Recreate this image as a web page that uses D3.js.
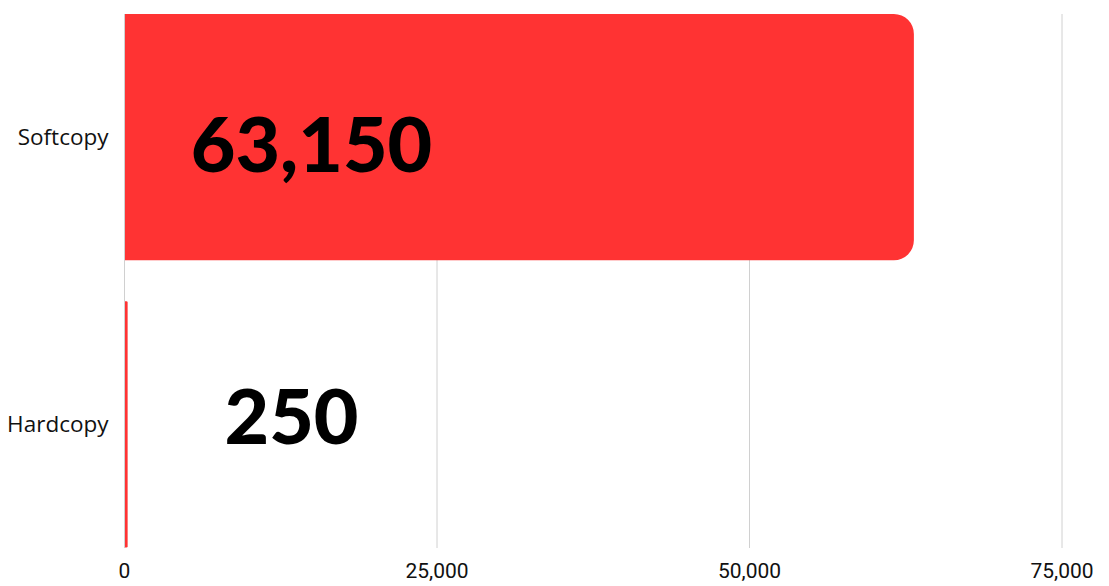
<!DOCTYPE html>
<html>
<head>
<meta charset="utf-8">
<script src="https://cdn.jsdelivr.net/npm/d3@7"></script>
<style>
  body { margin: 0; background: #fff; }
  svg { display: block; }
</style>
</head>
<body>
<div id="chart"></div>
<script>
const categories = ["Softcopy", "Hardcopy"];
const values = [63150, 250];
const tickValues = [0, 25000, 50000, 75000];

const width = 1109;
const height = 586;
const margin = { top: 14, right: 47, bottom: 38, left: 124.5 };

const svg = d3.select("#chart")
  .append("svg")
  .attr("width", width)
  .attr("height", height);

const x = d3.scaleLinear()
  .domain([0, 75000])
  .range([margin.left, width - margin.right]);

const y = d3.scaleBand()
  .domain(categories)
  .range([margin.top, height - margin.bottom - 0.5])
  .paddingInner(0.142)
  .paddingOuter(0);

// gridlines
svg.append("g")
  .selectAll("line")
  .data(tickValues)
  .join("line")
  .attr("x1", d => x(d))
  .attr("x2", d => x(d))
  .attr("y1", margin.top)
  .attr("y2", height - margin.bottom)
  .attr("stroke", "#d0d0d0")
  .attr("stroke-width", 1);

// x tick labels
svg.append("g")
  .selectAll("text")
  .data(tickValues)
  .join("text")
  .attr("x", d => x(d))
  .attr("y", 578)
  .attr("text-anchor", "middle")
  .attr("font-family", "Roboto, sans-serif")
  .attr("font-size", 21)
  .attr("fill", "#111")
  .text(d => d3.format(",")(d));

// bars, rounded on the right end
function barPath(x0, x1, y0, h, r) {
  const w = x1 - x0;
  r = Math.min(r, w / 2, h / 2);
  return `M${x0},${y0}H${x1 - r}A${r},${r} 0 0 1 ${x1},${y0 + r}` +
    `V${y0 + h - r}A${r},${r} 0 0 1 ${x1 - r},${y0 + h}H${x0}Z`;
}

const rows = categories.map((c, i) => ({ name: c, value: values[i] }));

svg.append("g")
  .selectAll("path")
  .data(rows)
  .join("path")
  .attr("d", d => barPath(x(0) + 0.5, x(d.value), y(d.name), y.bandwidth(), 20))
  .attr("fill", "#ff3333");

// category labels
svg.append("g")
  .selectAll("text")
  .data(rows)
  .join("text")
  .attr("x", x(0) - 16)
  .attr("y", d => y(d.name) + y.bandwidth() / 2)
  .attr("dy", "0.35em")
  .attr("text-anchor", "end")
  .attr("font-family", "'Open Sans', sans-serif")
  .attr("font-size", 22.5)
  .attr("fill", "#111")
  .text(d => d.name);

// big value labels
const labelShift = { Softcopy: [187, 7], Hardcopy: [167, -8] };
svg.append("g")
  .selectAll("text")
  .data(rows)
  .join("text")
  .attr("x", d => x(0) + labelShift[d.name][0])
  .attr("y", d => y(d.name) + y.bandwidth() / 2 + labelShift[d.name][1])
  .attr("dy", "0.36em")
  .attr("text-anchor", "middle")
  .attr("font-family", "Lato, sans-serif")
  .attr("font-weight", 900)
  .attr("font-size", 77)
  .attr("fill", "#000")
  .text(d => d3.format(",")(d.value));
</script>
</body>
</html>
